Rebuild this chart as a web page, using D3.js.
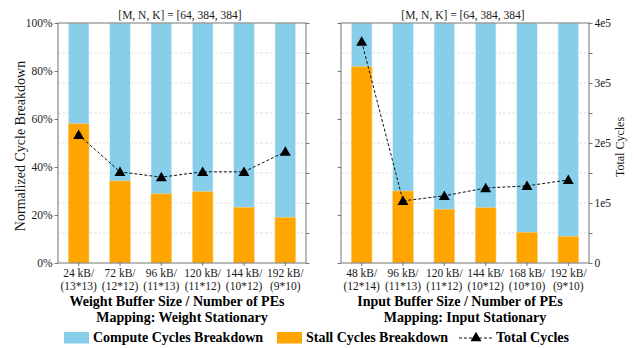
<!DOCTYPE html>
<html>
<head>
<meta charset="utf-8">
<script src="https://cdn.jsdelivr.net/npm/d3@7"></script>
<style>
  body { margin: 0; background: #fff; }
  svg { display: block; font-family: "Liberation Serif", "Times New Roman", serif; }
</style>
</head>
<body>
<svg id="chart" width="634" height="348"></svg>
<script>
// Chart values.
var title = "[M, N, K] = [64, 384, 384]";

var wsLabels = [["24 kB/", "(13*13)"], ["72 kB/", "(12*12)"], ["96 kB/", "(11*13)"],
                ["120 kB/", "(11*12)"], ["144 kB/", "(10*12)"], ["192 kB/", "(9*10)"]];
var wsStall = [0.58, 0.342, 0.288, 0.297, 0.232, 0.19];
var wsTotal = [213500, 152000, 143000, 152000, 152000, 185500];

var isLabels = [["48 kB/", "(12*14)"], ["96 kB/", "(11*13)"], ["120 kB/", "(11*12)"],
                ["144 kB/", "(10*12)"], ["168 kB/", "(10*10)"], ["192 kB/", "(9*10)"]];
var isStall = [0.818, 0.30, 0.224, 0.23, 0.128, 0.111];
var isTotal = [369000, 103500, 112000, 125000, 128500, 138500];

var pctTicks = [0, 0.2, 0.4, 0.6, 0.8, 1.0];
var cycleTicks = [0, 50000, 100000, 150000, 200000, 250000, 300000, 350000, 400000];

// Colors
var c = { compute: "#87CEEB", stall: "#FFA500", spine: "#8c8c8c", grid: "#d4d4d4", text: "#1a1a1a" };

var svg = d3.select("#chart");
var top_y = 23, bottom_y = 263;

var yPct = d3.scaleLinear().domain([0, 1]).range([bottom_y, top_y]);
var yCyc = d3.scaleLinear().domain([0, 400000]).range([bottom_y, top_y]);

var triangle = d3.symbol().type(d3.symbolTriangle).size(52);

function panel(x0, x1, labels, stall, total, xtitle, mapping, leftLabels, rightLabels)
{
  var g = svg.append("g");
  var x = d3.scaleBand().domain(d3.range(labels.length)).range([x0, x1]).padding(0.5).paddingOuter(0.25);

  // Grid from the cycle axis (dashed, behind the bars).
  g.append("g").selectAll("line")
      .data(cycleTicks.slice(1, -1))
      .enter().append("line")
      .attr("x1", x0).attr("x2", x1)
      .attr("y1", function(d) { return yCyc(d); })
      .attr("y2", function(d) { return yCyc(d); })
      .attr("stroke", c.grid)
      .attr("stroke-width", 0.8)
      .attr("stroke-dasharray", "2.5,2");

  // Compute (full) and stall bars.
  g.append("g").selectAll("rect")
      .data(stall)
      .enter().append("rect")
      .attr("x", function(d, i) { return x(i); })
      .attr("width", x.bandwidth())
      .attr("y", yPct(1))
      .attr("height", yPct(0) - yPct(1))
      .attr("fill", c.compute)
      .attr("stroke", "#e8f6fb").attr("stroke-width", 0.6);
  g.append("g").selectAll("rect")
      .data(stall)
      .enter().append("rect")
      .attr("x", function(d, i) { return x(i); })
      .attr("width", x.bandwidth())
      .attr("y", function(d) { return yPct(d); })
      .attr("height", function(d) { return yPct(0) - yPct(d); })
      .attr("fill", c.stall)
      .attr("stroke", "#ffd27a").attr("stroke-width", 0.6);

  // Total cycles line.
  var line = d3.line()
      .x(function(d, i) { return x(i) + x.bandwidth() / 2; })
      .y(function(d) { return yCyc(d); });
  g.append("path")
      .datum(total)
      .attr("d", line)
      .attr("fill", "none")
      .attr("stroke", "#111")
      .attr("stroke-width", 1)
      .attr("stroke-dasharray", "3,2");
  g.append("g").selectAll("path")
      .data(total)
      .enter().append("path")
      .attr("d", triangle)
      .attr("transform", function(d, i) {
        return "translate(" + (x(i) + x.bandwidth() / 2) + "," + (yCyc(d) + 1) + ")";
      })
      .attr("fill", "#000");

  // Frame
  g.append("rect")
      .attr("x", x0).attr("y", top_y)
      .attr("width", x1 - x0).attr("height", bottom_y - top_y)
      .attr("fill", "none")
      .attr("stroke", c.spine)
      .attr("stroke-width", 1.2);

  // Left axis (percent)
  var la = g.append("g")
      .attr("transform", "translate(" + x0 + ",0)")
      .call(d3.axisLeft(yPct).tickValues(pctTicks).tickSize(3.5).tickPadding(2)
            .tickFormat(leftLabels ? d3.format(".0%") : ""));
  // Right axis (cycles)
  var ra = g.append("g")
      .attr("transform", "translate(" + x1 + ",0)")
      .call(d3.axisRight(yCyc).tickValues(cycleTicks).tickSize(3.5).tickPadding(2)
            .tickFormat(function(d) {
              if (!rightLabels || d % 100000) return "";
              return d === 0 ? "0" : (d / 100000) + "e5";
            }));
  // Bottom axis (categories)
  var ba = g.append("g")
      .attr("transform", "translate(0," + bottom_y + ")")
      .call(d3.axisBottom(x).tickSize(3).tickFormat(""));

  [la, ra, ba].forEach(function(a) {
    a.select(".domain").remove();
    a.selectAll(".tick line").attr("stroke", "#555").attr("stroke-width", 0.8);
    a.selectAll("text").attr("font-size", "11.5px").attr("fill", c.text)
      .attr("font-family", "Liberation Serif, serif");
  });

  // Two-line category labels
  var tl = g.append("g").selectAll("text")
      .data(labels)
      .enter().append("text")
      .attr("text-anchor", "middle")
      .attr("font-size", "11.5px")
      .attr("fill", c.text)
      .attr("transform", function(d, i) { return "translate(" + (x(i) + x.bandwidth() / 2) + ",0)"; });
  tl.append("tspan").attr("x", 0).attr("y", 277).text(function(d) { return d[0]; });
  tl.append("tspan").attr("x", 0).attr("y", 290).text(function(d) { return d[1]; });

  // Title and axis titles
  var mid = (x0 + x1) / 2;
  g.append("text")
      .attr("x", mid - 2).attr("y", 19)
      .attr("text-anchor", "middle")
      .attr("font-size", "11.5px")
      .attr("fill", c.text)
      .text(title);
  g.append("text")
      .attr("x", mid - 5).attr("y", 305.5)
      .attr("text-anchor", "middle")
      .attr("font-size", "14px").attr("font-weight", "bold")
      .attr("fill", "#000")
      .text(xtitle);
  g.append("text")
      .attr("x", mid + 0).attr("y", 321.5)
      .attr("text-anchor", "middle")
      .attr("font-size", "14px").attr("font-weight", "bold")
      .attr("fill", "#000")
      .text(mapping);
  return g;
}

panel(58, 306, wsLabels, wsStall, wsTotal,
      "Weight Buffer Size / Number of PEs", "Mapping: Weight Stationary", true, false);
panel(341, 589, isLabels, isStall, isTotal,
      "Input Buffer Size / Number of PEs", "Mapping: Input Stationary", false, true);

// Y axis titles
svg.append("text")
    .attr("transform", "translate(25," + ((top_y + bottom_y) / 2 + 3) + ") rotate(-90)")
    .attr("text-anchor", "middle")
    .attr("font-size", "14px")
    .attr("fill", c.text)
    .text("Normalized Cycle Breakdown");
svg.append("text")
    .attr("transform", "translate(624," + ((top_y + bottom_y) / 2 + 4) + ") rotate(-90)")
    .attr("text-anchor", "middle")
    .attr("font-size", "12px")
    .attr("fill", c.text)
    .text("Total Cycles");

// Legend
var leg = svg.append("g").attr("font-size", "14px").attr("font-weight", "bold").attr("fill", "#000");
var legY = 332;
leg.append("rect").attr("x", 64).attr("y", legY).attr("width", 25).attr("height", 11.5).attr("fill", c.compute);
leg.append("text").attr("x", 93).attr("y", legY + 10).text("Compute Cycles Breakdown");
leg.append("rect").attr("x", 277).attr("y", legY).attr("width", 25).attr("height", 11.5).attr("fill", c.stall);
leg.append("text").attr("x", 306).attr("y", legY + 10).text("Stall Cycles Breakdown");
leg.append("line").attr("x1", 459).attr("x2", 493).attr("y1", legY + 6).attr("y2", legY + 6)
    .attr("stroke", "#111").attr("stroke-width", 1).attr("stroke-dasharray", "3,2");
leg.append("path").attr("d", triangle).attr("transform", "translate(476," + (legY + 6) + ")").attr("fill", "#000");
leg.append("text").attr("x", 496).attr("y", legY + 10).text("Total Cycles");
</script>
</body>
</html>
